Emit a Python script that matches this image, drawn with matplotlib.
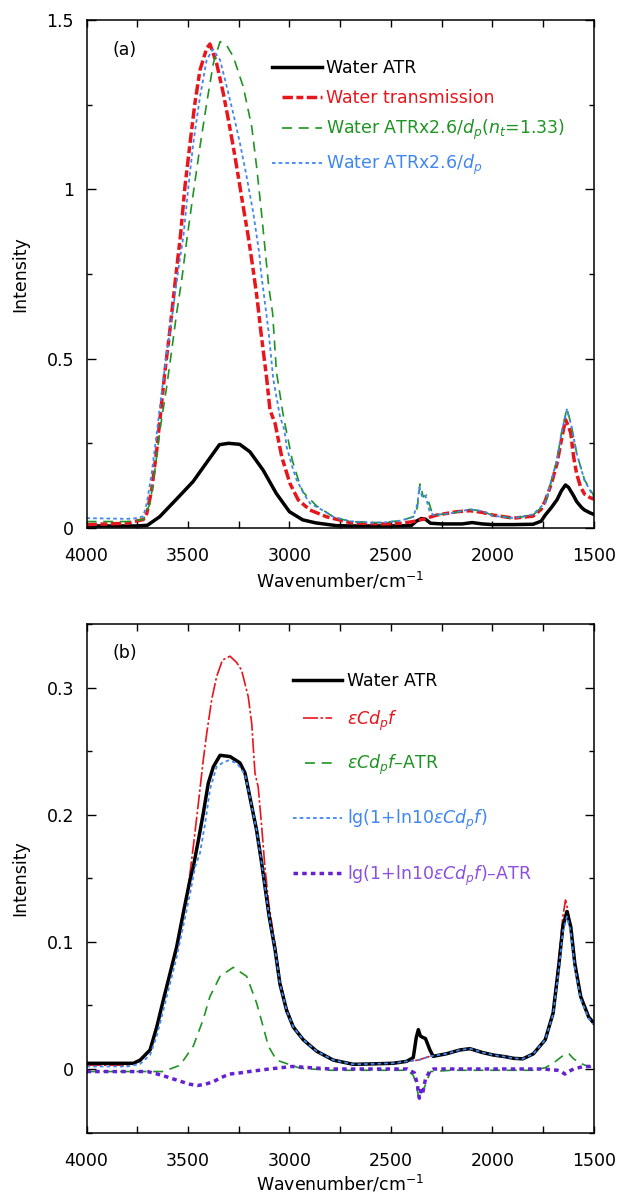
import matplotlib
matplotlib.use("Agg")
import matplotlib.pyplot as plt
from matplotlib.ticker import MultipleLocator

# -----------------------------
# Data
# -----------------------------
# (a) Water ATR
wn_atr_a = [4000, 3800, 3750, 3700, 3640, 3560, 3475, 3400, 3345, 3300, 3245, 3195,
            3130, 3065, 3000, 2935, 2870, 2820, 2770, 2700, 2600, 2500, 2400, 2375,
            2350, 2330, 2305, 2250, 2150, 2100, 2050, 2000, 1900, 1800, 1760, 1740,
            1710, 1682, 1660, 1640, 1625, 1600, 1585, 1560, 1546, 1520, 1500]
i_atr_a = [0.006, 0.006, 0.006, 0.008, 0.033, 0.083, 0.137, 0.200, 0.246, 0.250, 0.247, 0.225,
           0.171, 0.102, 0.048, 0.024, 0.015, 0.011, 0.007, 0.006, 0.006, 0.006, 0.007, 0.020,
           0.028, 0.026, 0.014, 0.012, 0.012, 0.016, 0.012, 0.010, 0.010, 0.011, 0.020, 0.038,
           0.060, 0.083, 0.110, 0.127, 0.120, 0.095, 0.078, 0.060, 0.053, 0.045, 0.040]

# (a) Water transmission
wn_trans = [4000, 3900, 3800, 3720, 3703, 3679, 3654, 3630, 3613, 3589, 3564, 3536,
            3515, 3490, 3466, 3441, 3408, 3392, 3359, 3326, 3301, 3277, 3252, 3228,
            3203, 3181, 3160, 3141, 3112, 3096, 3071, 3038, 2998, 2957, 2899, 2817,
            2702, 2600, 2538, 2450, 2390, 2341, 2275, 2177, 2111, 2050, 1996, 1896,
            1800, 1760, 1740, 1710, 1682, 1660, 1640, 1625, 1614, 1600, 1585, 1565,
            1546, 1520, 1500]
i_trans = [0.010, 0.012, 0.014, 0.025, 0.043, 0.112, 0.230, 0.368, 0.466, 0.585, 0.722, 0.870,
           1.008, 1.136, 1.254, 1.352, 1.416, 1.429, 1.372, 1.283, 1.205, 1.126, 1.037, 0.949,
           0.860, 0.771, 0.680, 0.580, 0.440, 0.348, 0.309, 0.210, 0.132, 0.083, 0.053, 0.033,
           0.016, 0.013, 0.012, 0.014, 0.019, 0.026, 0.038, 0.048, 0.051, 0.046, 0.038, 0.029,
           0.035, 0.055, 0.080, 0.130, 0.190, 0.260, 0.320, 0.300, 0.280, 0.210, 0.160, 0.120,
           0.100, 0.090, 0.085]

# (a) Water ATR x2.6/dp (nt=1.33)
wn_nt = [4000, 3800, 3720, 3687, 3663, 3638, 3605, 3580, 3556, 3531, 3506, 3474,
         3441, 3408, 3375, 3342, 3310, 3277, 3228, 3186, 3162, 3141, 3102, 3083,
         3064, 3030, 2986, 2950, 2932, 2866, 2784, 2702, 2600, 2538, 2450, 2390,
         2370, 2357, 2341, 2324, 2300, 2291, 2209, 2111, 2050, 1996, 1896, 1800,
         1740, 1682, 1660, 1633, 1610, 1585, 1546, 1500]
i_nt = [0.019, 0.019, 0.025, 0.073, 0.171, 0.290, 0.417, 0.526, 0.634, 0.732, 0.850, 0.988,
        1.126, 1.254, 1.372, 1.436, 1.425, 1.392, 1.303, 1.185, 1.067, 0.949, 0.712, 0.634,
        0.460, 0.330, 0.200, 0.130, 0.105, 0.065, 0.033, 0.019, 0.016, 0.016, 0.022, 0.033,
        0.060, 0.130, 0.092, 0.097, 0.050, 0.038, 0.043, 0.055, 0.050, 0.036, 0.029, 0.038,
        0.070, 0.200, 0.280, 0.353, 0.300, 0.220, 0.142, 0.095]

# (a) Water ATR x2.6/dp
wn_dp = [4000, 3800, 3750, 3720, 3703, 3679, 3654, 3630, 3605, 3572, 3548, 3523,
         3498, 3474, 3441, 3408, 3378, 3342, 3309, 3277, 3244, 3211, 3178, 3149,
         3141, 3102, 3080, 3047, 3025, 3014, 2986, 2965, 2928, 2899, 2830, 2784,
         2702, 2600, 2538, 2450, 2390, 2370, 2360, 2345, 2330, 2310, 2291, 2209,
         2111, 2050, 1996, 1896, 1800, 1740, 1682, 1660, 1633, 1610, 1585, 1546, 1500]
i_dp = [0.029, 0.027, 0.029, 0.035, 0.073, 0.161, 0.280, 0.398, 0.516, 0.653, 0.762, 0.860,
        1.008, 1.136, 1.273, 1.382, 1.413, 1.382, 1.303, 1.224, 1.136, 1.037, 0.929, 0.811,
        0.760, 0.575, 0.440, 0.330, 0.289, 0.240, 0.180, 0.142, 0.100, 0.073, 0.050, 0.033,
        0.020, 0.016, 0.016, 0.022, 0.033, 0.070, 0.120, 0.090, 0.095, 0.050, 0.038, 0.043,
        0.055, 0.050, 0.036, 0.029, 0.040, 0.075, 0.200, 0.280, 0.350, 0.300, 0.220, 0.140, 0.090]

# (b) Water ATR
wn_atr_b = [4000, 3900, 3800, 3769, 3736, 3687, 3654, 3622, 3589, 3556, 3523, 3490,
            3474, 3449, 3425, 3400, 3375, 3342, 3293, 3244, 3219, 3195, 3162, 3137,
            3121, 3100, 3071, 3047, 3014, 2981, 2932, 2866, 2784, 2686, 2600, 2489,
            2423, 2390, 2375, 2365, 2355, 2345, 2330, 2308, 2292, 2226, 2160, 2111,
            2050, 1996, 1938, 1896, 1850, 1798, 1740, 1701, 1672, 1653, 1633, 1614,
            1594, 1565, 1526, 1500]
i_atr_b = [0.0045, 0.0045, 0.0045, 0.0045, 0.007, 0.015, 0.033, 0.054, 0.075, 0.096, 0.123, 0.149,
           0.159, 0.180, 0.201, 0.225, 0.238, 0.247, 0.246, 0.241, 0.233, 0.214, 0.188, 0.162,
           0.144, 0.120, 0.094, 0.067, 0.046, 0.033, 0.023, 0.014, 0.007, 0.0037, 0.004, 0.0045,
           0.006, 0.009, 0.025, 0.031, 0.026, 0.025, 0.024, 0.015, 0.010, 0.012, 0.015, 0.016,
           0.013, 0.011, 0.0097, 0.0084, 0.008, 0.012, 0.023, 0.044, 0.083, 0.112, 0.124, 0.112,
           0.083, 0.057, 0.041, 0.036]

# (b) eps C dp f
wn_ecf = [4000, 3800, 3736, 3687, 3654, 3622, 3589, 3556, 3523, 3498, 3474, 3449,
          3425, 3408, 3383, 3359, 3330, 3293, 3260, 3236, 3203, 3186, 3170, 3154,
          3137, 3121, 3102, 3071, 3047, 3014, 2981, 2932, 2866, 2784, 2686, 2600,
          2489, 2423, 2365, 2308, 2226, 2160, 2111, 2050, 1996, 1938, 1896, 1850,
          1798, 1740, 1701, 1672, 1653, 1640, 1628, 1614, 1594, 1565, 1526, 1500]
i_ecf = [0.003, 0.003, 0.006, 0.015, 0.033, 0.054, 0.075, 0.097, 0.123, 0.144, 0.175, 0.209,
         0.243, 0.264, 0.291, 0.309, 0.322, 0.325, 0.320, 0.314, 0.293, 0.272, 0.233, 0.222,
         0.191, 0.159, 0.130, 0.098, 0.070, 0.048, 0.034, 0.023, 0.014, 0.007, 0.0037, 0.004,
         0.0045, 0.006, 0.007, 0.010, 0.012, 0.015, 0.016, 0.013, 0.011, 0.0097, 0.0084, 0.008,
         0.012, 0.023, 0.045, 0.088, 0.120, 0.133, 0.125, 0.112, 0.083, 0.057, 0.041, 0.036]

# (b) eps C dp f - ATR
wn_ecf_diff = [4000, 3900, 3800, 3700, 3622, 3539, 3474, 3425, 3392, 3342, 3277, 3211,
               3162, 3129, 3104, 3064, 2947, 2800, 2600, 2420, 2390, 2375, 2363, 2350,
               2334, 2315, 2304, 2200, 2000, 1800, 1740, 1701, 1665, 1640, 1623, 1600,
               1565, 1530, 1500]
i_ecf_diff = [-0.002, -0.002, -0.002, -0.002, -0.002, 0.003, 0.018, 0.039, 0.057, 0.073, 0.080, 0.073,
              0.052, 0.033, 0.018, 0.007, 0.0006, -0.001, -0.001, -0.001, -0.005, -0.012, -0.023, -0.018,
              -0.014, -0.006, -0.002, -0.001, -0.001, -0.001, 0.001, 0.0045, 0.009, 0.012, 0.012, 0.008,
              0.0045, 0.002, 0.001]

# (b) lg(1 + ln10 eps C dp f)
wn_lg = [4000, 3800, 3736, 3687, 3654, 3622, 3589, 3556, 3523, 3490, 3465, 3441,
         3416, 3392, 3359, 3330, 3301, 3260, 3219, 3195, 3162, 3137, 3121, 3100,
         3071, 3047, 3014, 2981, 2932, 2866, 2784, 2686, 2600, 2489, 2423, 2365,
         2308, 2226, 2160, 2111, 2050, 1996, 1938, 1896, 1850, 1798, 1740, 1701,
         1672, 1653, 1633, 1614, 1594, 1565, 1526, 1500]
i_lg = [0.002, 0.002, 0.004, 0.011, 0.026, 0.046, 0.067, 0.088, 0.113, 0.138, 0.159, 0.170,
        0.193, 0.220, 0.238, 0.241, 0.243, 0.241, 0.232, 0.214, 0.188, 0.162, 0.144, 0.120,
        0.094, 0.067, 0.046, 0.033, 0.023, 0.014, 0.007, 0.0037, 0.004, 0.0045, 0.006, 0.007,
        0.010, 0.012, 0.015, 0.016, 0.013, 0.011, 0.0097, 0.0084, 0.008, 0.012, 0.023, 0.043,
        0.080, 0.108, 0.120, 0.108, 0.080, 0.055, 0.040, 0.035]

# (b) lg(1 + ln10 eps C dp f) - ATR
wn_lg_diff = [4000, 3800, 3700, 3650, 3608, 3570, 3531, 3490, 3453, 3415, 3375, 3340,
              3297, 3240, 3180, 3100, 2986, 2800, 2600, 2420, 2385, 2370, 2360, 2352,
              2345, 2330, 2310, 2290, 2100, 1900, 1750, 1680, 1660, 1643, 1625, 1600,
              1550, 1500]
i_lg_diff = [-0.002, -0.002, -0.002, -0.004, -0.006, -0.008, -0.010, -0.012, -0.013, -0.012, -0.010, -0.007,
             -0.004, -0.003, -0.0016, 0.0, 0.002, 0.0, 0.0, 0.0, -0.003, -0.012, -0.023, -0.017,
             -0.020, -0.008, -0.002, 0.0, 0.0, 0.0, 0.0, -0.001, -0.002, -0.004, -0.002, 0.0,
             0.002, 0.002]

# -----------------------------
# Styles
# -----------------------------
BLACK = "#000000"
RED = "#e8161c"
GREEN = "#1f9422"
BLUE = "#3f86f2"
PURPLE_LINE = "#6420d2"
PURPLE_TEXT = "#8c4fe0"

plt.rcParams["font.family"] = ["DejaVu Sans"]
plt.rcParams["mathtext.fontset"] = "dejavusans"

FS = 12.5


def style_axes(ax, ymin, ymax, ymajor, yminor, yfmt):
    ax.set_xlim(4000, 1500)
    ax.set_ylim(ymin, ymax)
    ax.xaxis.set_major_locator(MultipleLocator(500))
    ax.xaxis.set_minor_locator(MultipleLocator(250))
    ax.yaxis.set_major_locator(MultipleLocator(ymajor))
    ax.yaxis.set_minor_locator(MultipleLocator(yminor))
    ax.tick_params(which="both", direction="in", top=True, right=True, width=1.0)
    ax.tick_params(axis="x", which="both", length=5, pad=14, labelsize=FS)
    ax.tick_params(axis="y", which="major", length=6.5, pad=9, labelsize=FS)
    ax.tick_params(axis="y", which="minor", length=3.8)
    ax.yaxis.set_major_formatter(yfmt)
    for sp in ax.spines.values():
        sp.set_linewidth(1.1)
    ax.set_xlabel(r"Wavenumber/cm$^{-1}$", fontsize=FS, va="top")
    ax.set_ylabel("Intensity", fontsize=FS)
    ax.yaxis.set_label_coords(-0.113, 0.5)


def legend_row(ax, x0, x1, xt, y, text, lc, tc, ls, lw):
    ax.plot([x0, x1], [y, y], transform=ax.transAxes, color=lc, ls=ls, lw=lw,
            clip_on=False)
    ax.text(xt, y - 0.012, text, transform=ax.transAxes, color=tc,
            fontsize=FS, ha="left", va="baseline")


fig = plt.figure(figsize=(6.18, 11.94), dpi=100)
ax1 = fig.add_axes([0.140, 0.5578, 0.821, 0.4255])
ax2 = fig.add_axes([0.140, 0.0515, 0.821, 0.4255])

# -----------------------------
# Panel (a)
# -----------------------------
ls_red_a = (0, (3, 1, 2, 1))
ls_green = (0, (6, 4))
ls_blue = (0, (2, 1.7))

ax1.plot(wn_atr_a, i_atr_a, color=BLACK, lw=2.5)
ax1.plot(wn_trans, i_trans, color=RED, lw=2.5, ls=ls_red_a)
ax1.plot(wn_nt, i_nt, color=GREEN, lw=1.2, ls=ls_green)
ax1.plot(wn_dp, i_dp, color=BLUE, lw=1.3, ls=ls_blue)

style_axes(ax1, 0, 1.5, 0.5, 0.25,
           plt.FuncFormatter(lambda v, p: "0" if v == 0 else ("1" if v == 1 else f"{v:g}")))
ax1.xaxis.set_label_coords(0.5, -0.083)
ax1.text(0.051, 0.941, "(a)", transform=ax1.transAxes, fontsize=FS,
         ha="left", va="center")

lx0, lx1, lxt = 0.365, 0.464, 0.472
legend_row(ax1, lx0, lx1, lxt, 0.908, "Water ATR", BLACK, BLACK, "-", 2.5)
legend_row(ax1, lx0 + 0.02, lx1, lxt, 0.849, "Water transmission", RED, RED, ls_red_a, 2.5)
legend_row(ax1, lx0 + 0.02, lx1, lxt, 0.787, r"Water ATRx2.6/$d_p$($n_t$=1.33)",
           GREEN, GREEN, ls_green, 1.2)
legend_row(ax1, lx0, lx1, lxt, 0.719, r"Water ATRx2.6/$d_p$", BLUE, BLUE, ls_blue, 1.3)

# -----------------------------
# Panel (b)
# -----------------------------
ls_red_b = (0, (9, 1.5, 1.5, 1.5))
ls_purple = (0, (1.3, 1.2))

ax2.plot(wn_ecf, i_ecf, color=RED, lw=1.2, ls=ls_red_b)
ax2.plot(wn_ecf_diff, i_ecf_diff, color=GREEN, lw=1.2, ls=ls_green)
ax2.plot(wn_lg_diff, i_lg_diff, color=PURPLE_LINE, lw=2.5, ls=ls_purple)
ax2.plot(wn_atr_b, i_atr_b, color=BLACK, lw=2.5)
ax2.plot(wn_lg, i_lg, color=BLUE, lw=1.3, ls=ls_blue)

style_axes(ax2, -0.05, 0.35, 0.1, 0.05,
           plt.FuncFormatter(lambda v, p: "0" if abs(v) < 1e-9 else f"{v:.1f}"))
ax2.xaxis.set_label_coords(0.5, -0.080)
ax2.text(0.051, 0.943, "(b)", transform=ax2.transAxes, fontsize=FS,
         ha="left", va="center")

bx0, bx1, bxt = 0.406, 0.503, 0.513
legend_row(ax2, bx0, bx1, bxt, 0.891, "Water ATR", BLACK, BLACK, "-", 2.5)
legend_row(ax2, bx0 + 0.02, bx1 - 0.02, bxt, 0.815, r"$\varepsilon Cd_p f$", RED, RED, ls_red_b, 1.2)
legend_row(ax2, bx0 + 0.025, bx1 - 0.01, bxt, 0.727, r"$\varepsilon Cd_p f$–ATR", GREEN, GREEN, ls_green, 1.2)
legend_row(ax2, bx0, bx1, bxt, 0.620, r"lg(1+ln10$\varepsilon Cd_p f$)", BLUE, BLUE, ls_blue, 1.3)
legend_row(ax2, bx0, bx1, bxt, 0.510, r"lg(1+ln10$\varepsilon Cd_p f$)–ATR",
           PURPLE_LINE, PURPLE_TEXT, ls_purple, 2.5)

fig.savefig("out.png", dpi=100)
